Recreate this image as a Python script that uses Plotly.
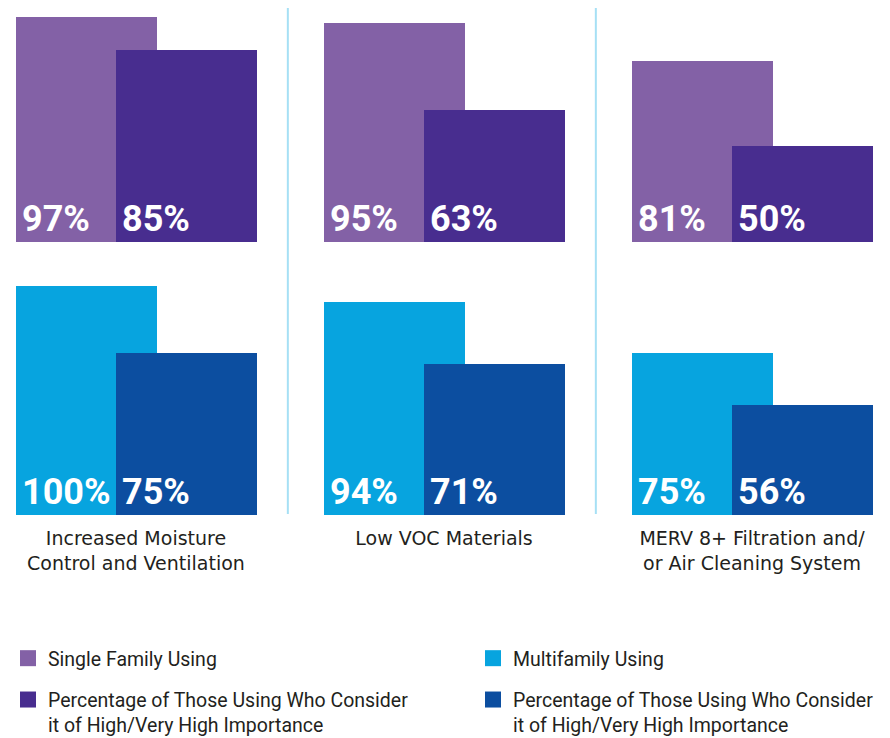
import plotly.graph_objects as go

categories = ["Increased Moisture<br>Control and Ventilation",
              "Low VOC Materials",
              "MERV 8+ Filtration and/<br>or Air Cleaning System"]
sf_using = [97, 95, 81]
sf_high = [85, 63, 50]
mf_using = [100, 94, 75]
mf_high = [75, 71, 56]

series_names = ["Single Family Using",
                "Percentage of Those Using Who Consider<br>it of High/Very High Importance",
                "Multifamily Using",
                "Percentage of Those Using Who Consider<br>it of High/Very High Importance"]

c_sf = "#8361A6"
c_sf_hi = "#482D8F"
c_mf = "#07A4DF"
c_mf_hi = "#0C4EA0"

# page has an 8px body margin; figure is offset by it
W, H = 882, 738
PAD = 8


def py(y):
    return 1 - (y - PAD) / H


grp = 308.0          # px per category
x0px = 136.0 - PAD   # centre of first group
bw = 141 / grp
off1 = -120 / grp
off2 = -20 / grp
ymin, ymax = 15, 100
xr = [-x0px / grp, (W - x0px) / grp]
xs = list(range(len(categories)))

fig = go.Figure()

panels = [
    ("x", "y", sf_using, sf_high, c_sf, c_sf_hi),
    ("x2", "y2", mf_using, mf_high, c_mf, c_mf_hi),
]
for xa, ya, a, b, ca, cb in panels:
    fig.add_trace(go.Bar(x=xs, y=a, base=0, width=bw, offset=off1, marker_color=ca,
                         marker_line_width=0, showlegend=False, xaxis=xa, yaxis=ya))
    fig.add_trace(go.Bar(x=xs, y=b, base=0, width=bw, offset=off2, marker_color=cb,
                         marker_line_width=0, showlegend=False, xaxis=xa, yaxis=ya))
    for i in xs:
        for val, off in ((a[i], off1), (b[i], off2)):
            fig.add_annotation(x=i + off, y=ymin, xref=xa, yref=ya, text=f"{val}%",
                               showarrow=False, xanchor="left", yanchor="bottom",
                               xshift=4, yshift=0,
                               font=dict(family="Roboto", size=36,
                                         color="white", weight="bold"))

# legend entries
leg = [(series_names[0], c_sf, "legend"), (series_names[1], c_sf_hi, "legend"),
       (series_names[2], c_mf, "legend2"), (series_names[3], c_mf_hi, "legend2")]
for name, col, lg in leg:
    fig.add_trace(go.Scatter(x=[None], y=[None], mode="markers", name=name,
                             marker=dict(symbol="square", size=20, color=col),
                             legend=lg, legendgroup=name + col))

for xv in (0.5, 1.5):
    fig.add_shape(type="line", xref="x", yref="paper", x0=xv - 0.007, x1=xv - 0.007,
                  y0=py(7), y1=py(514), line=dict(color="#A6E0F5", width=2))

legfont = dict(family="Roboto", size=19.5, color="#231F20")
fig.update_layout(
    width=W, height=H, margin=dict(l=0, r=0, t=0, b=0),
    paper_bgcolor="white", plot_bgcolor="white",
    barmode="overlay", bargap=0,
    xaxis=dict(domain=[0, 1], range=xr, showticklabels=False, showgrid=False,
               zeroline=False, anchor="y"),
    yaxis=dict(domain=[py(242), py(9)], range=[ymin, ymax], visible=False),
    xaxis2=dict(domain=[0, 1], range=xr, showgrid=False, zeroline=False, anchor="y2",
                tickvals=xs, ticktext=categories, ticks="", ticklen=0,
                ticklabelstandoff=10, automargin=False,
                tickfont=dict(family="DejaVu Sans", size=19, color="#231F20")),
    yaxis2=dict(domain=[py(515), py(286)], range=[ymin, ymax], visible=False),
    legend=dict(x=0, y=py(745), xanchor="left", yanchor="bottom", font=legfont,
                tracegroupgap=13, valign="top", bgcolor="rgba(0,0,0,0)"),
    legend2=dict(x=465 / W, y=py(745), xanchor="left", yanchor="bottom", font=legfont,
                 tracegroupgap=13, valign="top", bgcolor="rgba(0,0,0,0)"),
)

fig.write_html("out.html")
